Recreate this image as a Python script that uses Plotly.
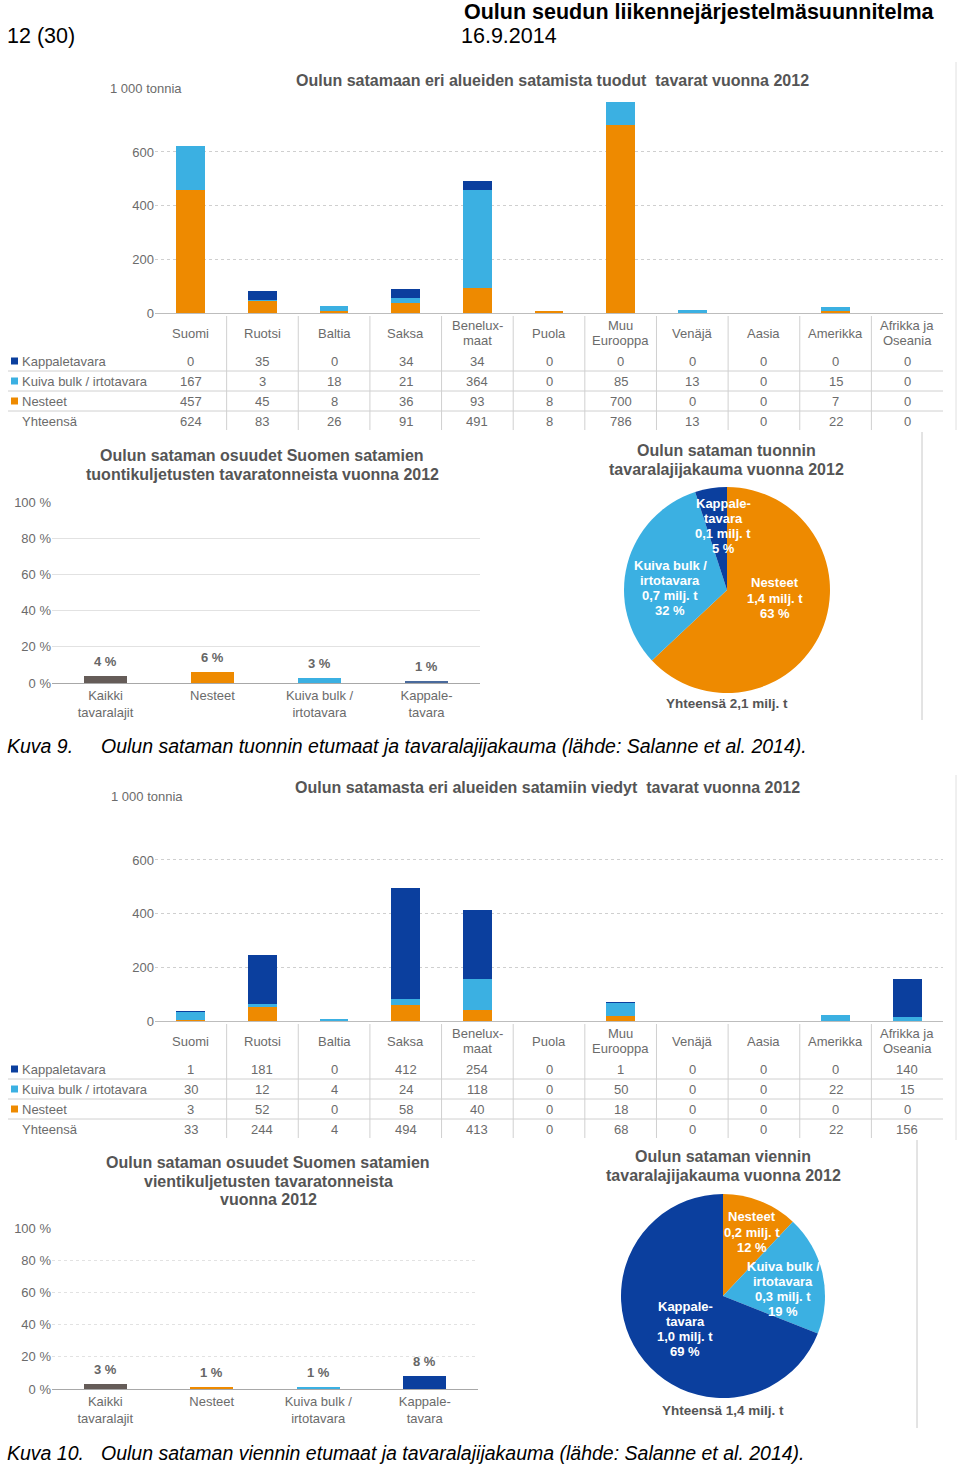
import plotly.graph_objects as go

W, H = 960, 1466
def px(x): return x / W
def py(y): return 1 - y / H

# ---------------- DATA ----------------
regions = ["Suomi", "Ruotsi", "Baltia", "Saksa", "Benelux-<br>maat", "Puola",
           "Muu<br>Eurooppa", "Venäjä", "Aasia", "Amerikka", "Afrikka ja<br>Oseania"]
row_names = ["Kappaletavara", "Kuiva bulk / irtotavara", "Nesteet", "Yhteensä"]

import_kappale = [0, 35, 0, 34, 34, 0, 0, 0, 0, 0, 0]
import_kuiva = [167, 3, 18, 21, 364, 0, 85, 13, 0, 15, 0]
import_nesteet = [457, 45, 8, 36, 93, 8, 700, 0, 0, 7, 0]
import_total = [624, 83, 26, 91, 491, 8, 786, 13, 0, 22, 0]

export_kappale = [1, 181, 0, 412, 254, 0, 1, 0, 0, 0, 140]
export_kuiva = [30, 12, 4, 24, 118, 0, 50, 0, 0, 22, 15]
export_nesteet = [3, 52, 0, 58, 40, 0, 18, 0, 0, 0, 0]
export_total = [33, 244, 4, 494, 413, 0, 68, 0, 0, 22, 156]

share_categories = ["Kaikki<br>tavaralajit", "Nesteet", "Kuiva bulk /<br>irtotavara", "Kappale-<br>tavara"]
import_shares = [4, 6, 3, 1]
export_shares = [3, 1, 1, 8]

pie_labels = [["Nesteet"], ["Kuiva bulk /", "irtotavara"], ["Kappale-", "tavara"]]
import_pie_pct = [63, 32, 5]
import_pie_mt = ["1,4", "0,7", "0,1"]
export_pie_pct = [12, 19, 69]
export_pie_mt = ["0,2", "0,3", "1,0"]

# ---------------- STYLE ----------------
C_DARK = "#0b3f9e"
C_LIGHT = "#3bb0e2"
C_ORANGE = "#ee8a00"
C_GREY = "#655c58"
TXT = "#6b6b6b"
TITLE = "#555555"
FONT = "Liberation Sans, Arial, sans-serif"

fig = go.Figure()

# ---- stacked bars ----
def add_stack(xa, ya, nest, kuiva, kapp):
    for vals, col, name in [(nest, C_ORANGE, "Nesteet"), (kuiva, C_LIGHT, "Kuiva bulk / irtotavara"),
                            (kapp, C_DARK, "Kappaletavara")]:
        fig.add_trace(go.Bar(x=regions, y=vals, marker=dict(color=col, line=dict(width=0)),
                             name=name, xaxis=xa, yaxis=ya, showlegend=False))

add_stack("x", "y", import_nesteet, import_kuiva, import_kappale)
add_stack("x3", "y3", export_nesteet, export_kuiva, export_kappale)

# ---- share bars ----
fig.add_trace(go.Bar(x=share_categories, y=import_shares, xaxis="x2", yaxis="y2", showlegend=False,
                     marker=dict(color=[C_GREY, C_ORANGE, C_LIGHT, "#4a6a9c"], line=dict(width=0))))
fig.add_trace(go.Bar(x=share_categories, y=export_shares, xaxis="x4", yaxis="y4", showlegend=False,
                     marker=dict(color=[C_GREY, C_ORANGE, C_LIGHT, C_DARK], line=dict(width=0))))

# ---- pies ----
def add_pie(cx, cy, r, vals):
    fig.add_trace(go.Pie(values=vals, labels=["Nesteet", "Kuiva bulk", "Kappaletavara"],
                         marker=dict(colors=[C_ORANGE, C_LIGHT, C_DARK], line=dict(width=0)),
                         sort=False, direction="clockwise", rotation=0, textinfo="none",
                         showlegend=False,
                         domain=dict(x=[px(cx - r), px(cx + r)], y=[py(cy + r), py(cy - r)])))

add_pie(727, 590, 103, import_pie_pct)
add_pie(723, 1296, 102, export_pie_pct)

annotations = []
shapes = []

def ann(x, y, text, size=13, color=TXT, bold=False, xanchor="center", yanchor="middle",
        xref="paper", yref="paper", italic=False, **kw):
    t = f"<b>{text}</b>" if bold else text
    if italic:
        t = f"<i>{t}</i>"
    annotations.append(dict(x=x, y=y, xref=xref, yref=yref, text=t, showarrow=False,
                            xanchor=xanchor, yanchor=yanchor,
                            font=dict(size=size, color=color, family=FONT), **kw))

def line(x0, y0, x1, y1, color="#d0d0d0", width=1):
    shapes.append(dict(type="line", xref="paper", yref="paper", x0=px(x0), y0=py(y0),
                       x1=px(x1), y1=py(y1), line=dict(color=color, width=width)))

def multiline(x, y, lines, size, color, bold, spacing):
    n = len(lines)
    for i, t in enumerate(lines):
        yy = y + (i - (n - 1) / 2) * spacing
        ann(px(x), py(yy), t, size=size, color=color, bold=bold)

# ---- header ----
ann(px(937), py(12), "Oulun seudun liikennejärjestelmäsuunnitelma", size=21.5, color="#000", bold=True,
    xanchor="right")
ann(px(5), py(36), "12 (30)", size=21.5, color="#000", xanchor="left")
ann(px(459), py(36), "16.9.2014", size=21.5, color="#000", xanchor="left")

# ---- tables ----
def table(row_ys, header_y, totals, kapp, kuiva, nest, vtop, vbot):
    for c in regions:
        parts = c.split("<br>")
        if len(parts) == 1:
            ann(c, py(header_y), c, size=13, xref="x")
        else:
            for i, p in enumerate(parts):
                ann(c, py(header_y - 7.5 + 15 * i), p, size=13, xref="x")
    rows = [kapp, kuiva, nest, totals]
    cols = [C_DARK, C_LIGHT, C_ORANGE, None]
    for ry, vals, name, col in zip(row_ys, rows, row_names, cols):
        for c, v in zip(regions, vals):
            ann(c, py(ry), str(v), size=13, xref="x")
        ann(px(20), py(ry), name, size=13, xanchor="left")
        if col:
            shapes.append(dict(type="rect", xref="paper", yref="paper", x0=px(11), x1=px(18),
                               y0=py(ry + 3.5), y1=py(ry - 3.5), fillcolor=col, line=dict(width=0)))
    for i in range(3):
        yl = (row_ys[i] + row_ys[i + 1]) / 2
        line(8, yl, 943, yl)
    for k in range(1, 11):
        xv = 155 + 71.64 * k
        line(xv, vtop, xv, vbot)

table([361, 381, 401, 421], 333, import_total, import_kappale, import_kuiva, import_nesteet, 316, 430)
table([1069, 1089, 1109, 1129], 1041, export_total, export_kappale, export_kuiva, export_nesteet, 1024, 1138)

# ---- chart titles ----
ann(px(552), py(80), "Oulun satamaan eri alueiden satamista tuodut  tavarat vuonna 2012", size=16,
    color=TITLE, bold=True)
ann(px(108), py(89), "1 000 tonnia", size=13, xanchor="left")
ann(px(547), py(787), "Oulun satamasta eri alueiden satamiin viedyt  tavarat vuonna 2012", size=16,
    color=TITLE, bold=True)
ann(px(109), py(796), "1 000 tonnia", size=13, xanchor="left")

multiline(262, 465, ["Oulun sataman osuudet Suomen satamien",
                     "tuontikuljetusten tavaratonneista vuonna 2012"], 16, TITLE, True, 19)
multiline(268, 1181, ["Oulun sataman osuudet Suomen satamien",
                      "vientikuljetusten tavaratonneista", "vuonna 2012"], 16, TITLE, True, 18.5)
multiline(726, 460, ["Oulun sataman tuonnin", "tavaralajijakauma vuonna 2012"], 16, TITLE, True, 18.5)
multiline(723, 1166, ["Oulun sataman viennin", "tavaralajijakauma vuonna 2012"], 16, TITLE, True, 18.5)

ann(px(727), py(703), "Yhteensä 2,1 milj. t", size=13.5, color="#555", bold=True)
ann(px(723), py(1410), "Yhteensä 1,4 milj. t", size=13.5, color="#555", bold=True)

# ---- share value labels ----
for c, v in zip(share_categories, import_shares):
    ann(c, v, f"{v} %", size=13, color="#666", bold=True, xref="x2", yref="y2", yanchor="bottom", yshift=5)
for c, v in zip(share_categories, export_shares):
    ann(c, v, f"{v} %", size=13, color="#666", bold=True, xref="x4", yref="y4", yanchor="bottom", yshift=5)

# ---- pie labels ----
def pie_label(x, y, name_lines, mt, pct):
    multiline(x, y, name_lines + [f"{mt} milj. t", f"{pct} %"], 13, "#ffffff", True, 15.3)

pie_label(775, 598, pie_labels[0], import_pie_mt[0], import_pie_pct[0])
pie_label(670, 588, pie_labels[1], import_pie_mt[1], import_pie_pct[1])
pie_label(723, 526, pie_labels[2], import_pie_mt[2], import_pie_pct[2])
pie_label(752, 1232, pie_labels[0], export_pie_mt[0], export_pie_pct[0])
pie_label(783, 1289, pie_labels[1], export_pie_mt[1], export_pie_pct[1])
pie_label(685, 1329, pie_labels[2], export_pie_mt[2], export_pie_pct[2])

# ---- captions ----
ann(px(5), py(746), "Kuva 9.", size=19.5, color="#000", italic=True, xanchor="left")
ann(px(99), py(746), "Oulun sataman tuonnin etumaat ja tavaralajijakauma (lähde: Salanne et al. 2014).",
    size=19.5, color="#000", italic=True, xanchor="left")
ann(px(5), py(1453), "Kuva 10.", size=19.5, color="#000", italic=True, xanchor="left")
ann(px(99), py(1453), "Oulun sataman viennin etumaat ja tavaralajijakauma (lähde: Salanne et al. 2014).",
    size=19.5, color="#000", italic=True, xanchor="left")

# ---- separators ----
line(922, 432, 922, 720, color="#c8c8c8")
line(917, 1140, 917, 1428, color="#c8c8c8")
line(956, 62, 956, 430, color="#e0e0e0")
line(956, 775, 956, 1140, color="#e0e0e0")

# ---- axes ----
tickfont = dict(size=13, color=TXT, family=FONT)
big_y = dict(range=[0, 800], tickvals=[0, 200, 400, 600], showgrid=True, gridcolor="#cfcfcf",
             griddash="dot", zeroline=False, tickfont=tickfont, ticks="", fixedrange=True,
             automargin=False)
big_x = dict(showticklabels=False, showline=True, linecolor="#bdbdbd", showgrid=False,
             ticks="", fixedrange=True, categoryorder="array", categoryarray=regions,
             automargin=False)
share_y = dict(range=[0, 100], tickvals=[0, 20, 40, 60, 80, 100],
               ticktext=["0 %", "20 %", "40 %", "60 %", "80 %", "100 %"],
               showgrid=True, gridcolor="#e2e2e2", zeroline=False, tickfont=tickfont, ticks="",
               fixedrange=True, automargin=False)
share_x = dict(showline=True, linecolor="#a8a8a8", showgrid=False, ticks="", tickfont=tickfont,
               fixedrange=True, automargin=False)

fig.update_layout(
    template="none",
    width=W, height=H, margin=dict(l=0, r=0, t=0, b=0, pad=0, autoexpand=False),
    paper_bgcolor="white", plot_bgcolor="white",
    barmode="stack", bargap=0.6,
    font=dict(family=FONT, color=TXT),
    xaxis=dict(domain=[px(155), px(943)], anchor="y", **big_x),
    yaxis=dict(domain=[py(313), py(98.3)], anchor="x", **big_y),
    xaxis3=dict(domain=[px(155), px(943)], anchor="y3", **big_x),
    yaxis3=dict(domain=[py(1021), py(806.3)], anchor="x3", **big_y),
    xaxis2=dict(domain=[px(52), px(480)], anchor="y2", **share_x),
    yaxis2=dict(domain=[py(683), py(502)], anchor="x2", **share_y),
    xaxis4=dict(domain=[px(52), px(478)], anchor="y4", **share_x),
    yaxis4=dict(domain=[py(1389), py(1228)], anchor="x4", **{**share_y, "griddash": "dot"}),
    annotations=annotations, shapes=shapes,
)

fig.write_html("out.html", config={"displayModeBar": False},
               post_script="document.body.style.margin='0';document.body.style.overflow='hidden';")
